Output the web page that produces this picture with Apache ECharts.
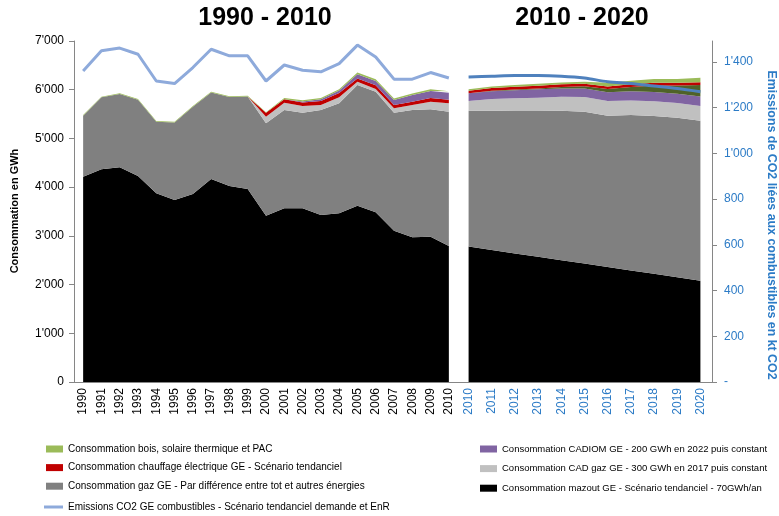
<!DOCTYPE html>
<html><head><meta charset="utf-8">
<script src="https://cdn.jsdelivr.net/npm/echarts@6/dist/echarts.min.js"></script>
<style>html,body{margin:0;padding:0;background:#fff}#c{width:779px;height:516px}</style>
</head><body><div id="c"></div>
<script>
// ---------- DATA ----------
const yearsA = ['1990','1991','1992','1993','1994','1995','1996','1997','1998','1999','2000','2001','2002','2003','2004','2005','2006','2007','2008','2009','2010'];
const yearsB = ['2010','2011','2012','2013','2014','2015','2016','2017','2018','2019','2020'];

// Period 1990-2010 (GWh)
const mazoutA = [4215,4366,4408,4229,3874,3736,3860,4167,4024,3962,3414,3566,3566,3428,3463,3619,3484,3106,2970,2983,2790];
const gazA    = [1251,1477,1504,1566,1469,1593,1791,1778,1826,1901,1897,2018,1963,2156,2259,2476,2476,2423,2614,2615,2759];
const cadGazA = [0,0,0,0,0,0,0,0,0,0,135,150,137,103,123,68,55,90,103,156,172];
const elecA   = [0,0,0,0,0,0,0,0,0,0,80,72,72,80,85,68,75,65,65,75,75];
const cadiomA = [0,0,0,0,0,0,0,0,0,0,0,0,20,35,55,88,88,103,137,144,144];
const boisA   = [15,15,15,15,15,15,15,15,15,15,10,25,25,27,27,35,35,35,35,35,30];
const co2A    = [1361,1449,1461,1434,1317,1306,1376,1456,1427,1427,1317,1387,1364,1357,1393,1474,1422,1325,1325,1354,1330];

// Period 2010-2020 (GWh)
const mazoutB = [2780,2710,2640,2570,2500,2430,2360,2290,2220,2150,2080];
const gazB    = [2790,2860,2935,3005,3070,3120,3107,3191,3241,3276,3284];
const cadGazB = [200,240,250,262,285,300,300,300,300,300,300];
const cadiomB = [155,160,165,170,170,175,180,185,190,190,195];
const autreB  = [0,10,15,20,30,47,68,88,137,171,240];
const elecB   = [55,55,55,55,55,50,50,60,55,55,55];
const boisB   = [27,30,35,40,40,41,76,68,76,76,90];
const co2B    = [1335,1338,1341,1341,1338,1330,1314,1306,1295,1284,1270];

const N_BOIS = 'Consommation bois, solaire thermique et PAC';
const N_ELEC = 'Consommation chauffage électrique GE - Scénario tendanciel';
const N_GAZ  = 'Consommation gaz GE - Par différence entre tot et autres énergies';
const N_CO2  = 'Emissions CO2 GE combustibles - Scénario tendanciel demande et EnR';
const N_CADIOM = 'Consommation CADIOM GE - 200 GWh en 2022 puis constant';
const N_CADGAZ = 'Consommation CAD gaz GE - 300 GWh en 2017 puis constant';
const N_MAZOUT = 'Consommation mazout GE - Scénario tendanciel - 70GWh/an';
const N_AUTRE = 'Autre';

// ---------- CHART ----------
const C = {bois:'#9bbb59', elec:'#c00000', gaz:'#808080', cadgaz:'#c0c0c0', cadiom:'#8064a2', mazout:'#000000', autre:'#4f6228', co2A:'#8eaadb', co2B:'#4f81bd'};
const BLUE = '#2c7bc6';
const FONT = 'Liberation Sans';
const fmt = v => String(v).replace(/\B(?=(\d{3})+(?!\d))/g, "'");

function area(name, data, color, xi, yi, stack){
  return {name, type:'line', data, xAxisIndex:xi, yAxisIndex:yi, stack, symbol:'none',
    lineStyle:{width:0}, areaStyle:{color, opacity:1}, itemStyle:{color}, emphasis:{disabled:true}};
}
const legendText = {fontSize:10, color:'#000', fontFamily:FONT};

const chart = echarts.init(document.getElementById('c'), null, {renderer:'canvas'});
const option = {
  animation:false,
  textStyle:{fontFamily:FONT},
  grid:[
    {left:74, top:41, width:384, height:341},
    {left:457, top:41, width:255, height:341}
  ],
  xAxis:[
    {type:'category', gridIndex:0, data:yearsA, boundaryGap:true,
     axisLine:{lineStyle:{color:'#868686'}}, axisTick:{length:4, lineStyle:{color:'#868686'}},
     axisLabel:{rotate:90, color:'#000', fontSize:12, margin:6, interval:0, fontFamily:FONT}},
    {type:'category', gridIndex:1, data:yearsB, boundaryGap:true,
     axisLine:{lineStyle:{color:'#868686'}}, axisTick:{length:4, lineStyle:{color:'#868686'}},
     axisLabel:{rotate:90, color:BLUE, fontSize:12, margin:6, interval:0, fontFamily:FONT}}
  ],
  yAxis:[
    {type:'value', gridIndex:0, min:0, max:7000, interval:1000, position:'left',
     axisLine:{show:true, lineStyle:{color:'#868686'}}, axisTick:{show:true, length:5, lineStyle:{color:'#868686'}},
     splitLine:{show:false}, axisLabel:{color:'#000', fontSize:12, margin:10, formatter:fmt}},
    {type:'value', gridIndex:0, min:0, max:1492, position:'right', show:false},
    {type:'value', gridIndex:1, min:0, max:7000, position:'left', show:false},
    {type:'value', gridIndex:1, min:0, max:1492, interval:200, position:'right',
     axisLine:{show:true, lineStyle:{color:'#868686'}}, axisTick:{show:true, length:5, lineStyle:{color:'#868686'}},
     splitLine:{show:false},
     axisLabel:{color:BLUE, fontSize:12, margin:12, showMaxLabel:false,
       formatter:v => v===0 ? '-' : (v%200===0 ? fmt(v) : '')}}
  ],
  legend:[
    {data:[{name:N_BOIS,icon:'rect'},{name:N_ELEC,icon:'rect'},{name:N_GAZ,icon:'rect'}],
     orient:'vertical', left:46, top:444, itemGap:8.6, padding:0,
     itemWidth:17, itemHeight:7, selectedMode:false, textStyle:legendText},
    {data:[{name:N_CO2,icon:'rect'}], orient:'vertical', left:44, top:502, padding:0,
     itemWidth:19, itemHeight:3, selectedMode:false, textStyle:legendText},
    {data:[{name:N_CADIOM,icon:'rect'},{name:N_CADGAZ,icon:'rect'},{name:N_MAZOUT,icon:'rect'}],
     orient:'vertical', left:480, top:444, itemGap:9.6, padding:0,
     itemWidth:17, itemHeight:7, selectedMode:false, textStyle:Object.assign({}, legendText, {fontSize:9.5})}
  ],
  series:[
    area(N_MAZOUT, mazoutA, C.mazout, 0, 0, 'A'),
    area(N_GAZ, gazA, C.gaz, 0, 0, 'A'),
    area(N_CADGAZ, cadGazA, C.cadgaz, 0, 0, 'A'),
    area(N_ELEC, elecA, C.elec, 0, 0, 'A'),
    area(N_CADIOM, cadiomA, C.cadiom, 0, 0, 'A'),
    area(N_BOIS, boisA, C.bois, 0, 0, 'A'),
    {name:N_CO2, type:'line', data:co2A, xAxisIndex:0, yAxisIndex:1, symbol:'none',
     lineStyle:{width:3, color:C.co2A}, itemStyle:{color:C.co2A}},
    area(N_MAZOUT, mazoutB, C.mazout, 1, 2, 'B'),
    area(N_GAZ, gazB, C.gaz, 1, 2, 'B'),
    area(N_CADGAZ, cadGazB, C.cadgaz, 1, 2, 'B'),
    area(N_CADIOM, cadiomB, C.cadiom, 1, 2, 'B'),
    area(N_AUTRE, autreB, C.autre, 1, 2, 'B'),
    area(N_ELEC, elecB, C.elec, 1, 2, 'B'),
    area(N_BOIS, boisB, C.bois, 1, 2, 'B'),
    {name:N_CO2, type:'line', data:co2B, xAxisIndex:1, yAxisIndex:3, symbol:'none', smooth:0.3,
     lineStyle:{width:3, color:C.co2B}, itemStyle:{color:C.co2B}}
  ],
  graphic:[
    {type:'text', style:{text:'1990 - 2010', x:265, y:18, align:'center', verticalAlign:'middle', font:'bold 25px "Liberation Sans"', fill:'#000'}},
    {type:'text', style:{text:'2010 - 2020', x:582, y:18, align:'center', verticalAlign:'middle', font:'bold 25px "Liberation Sans"', fill:'#000'}},
    {type:'text', x:15, y:211, rotation:Math.PI/2, style:{text:'Consommation en GWh', x:0, y:0, align:'center', verticalAlign:'middle', font:'bold 11px "Liberation Sans"', fill:'#000'}},
    {type:'text', x:771, y:225, rotation:-Math.PI/2, style:{text:'Emissions de CO2 liées aux combustibles en kt CO2', x:0, y:0, align:'center', verticalAlign:'middle', font:'bold 12.4px "Liberation Sans"', fill:BLUE}},
    {type:'text', style:{text:'Emissions 1990 : 1’360’000 t', x:438, y:296, align:'right', verticalAlign:'middle', font:'bold 15px "Liberation Sans"', fill:'#fff'}},
    {type:'text', style:{text:'Population : + 20%', x:438, y:332, align:'right', verticalAlign:'middle', font:'italic bold 15px "Liberation Sans"', fill:'#fff'}},
    {type:'text', style:{text:'Emissions 2010 : 1’330’000 t', x:438, y:367, align:'right', verticalAlign:'middle', font:'bold 15px "Liberation Sans"', fill:'#fff'}},
    {type:'text', style:{text:'Emissions 2010 : 1’330’000 t', x:690, y:296, align:'right', verticalAlign:'middle', font:'bold 15px "Liberation Sans"', fill:'#fff'}},
    {type:'text', style:{text:'Population : + 10%', x:690, y:332, align:'right', verticalAlign:'middle', font:'italic bold 15px "Liberation Sans"', fill:'#fff'}},
    {type:'text', style:{text:'Emissions 2020 : 1’270’000 t', x:690, y:367, align:'right', verticalAlign:'middle', font:'bold 15px "Liberation Sans"', fill:'#fff'}}
  ]
};
chart.setOption(option);
</script></body></html>
